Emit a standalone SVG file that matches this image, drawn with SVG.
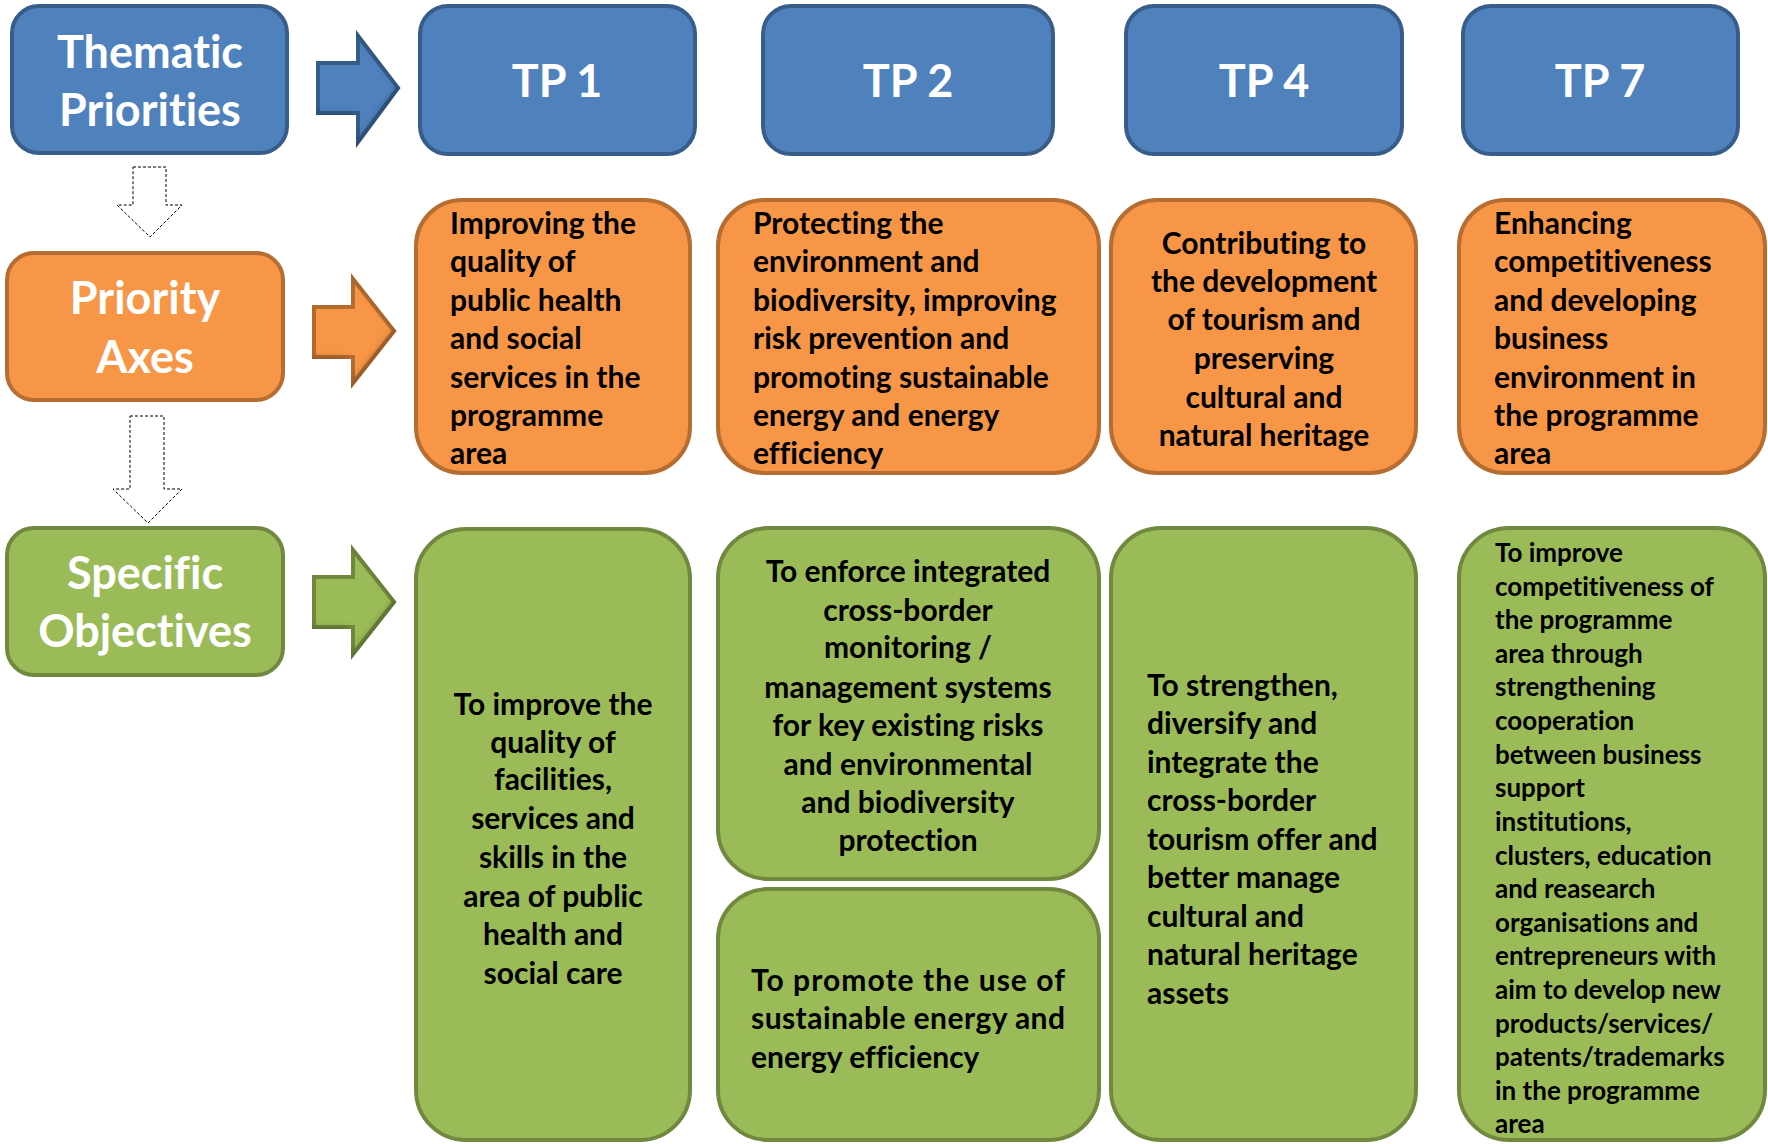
<svg xmlns="http://www.w3.org/2000/svg" width="1768" height="1144" viewBox="0 0 1768 1144">
<style>
text{font-family:Lato,"Open Sans","Liberation Sans",sans-serif;font-weight:bold;font-variant-ligatures:none}
.hd{fill:#fff;font-size:45px;text-anchor:middle}
.tp{fill:#fff;font-size:45px;text-anchor:middle}
.o{fill:#000;font-size:30px}
.g{fill:#000;font-size:30px}
.g7{fill:#000;font-size:26px}
.c{text-anchor:middle}
.blue{fill:#4F81BD;stroke:#385D8A;stroke-width:4}
.orange{fill:#F79646;stroke:#B66D31;stroke-width:4}
.green{fill:#9BBB59;stroke:#71893F;stroke-width:4}
.dash{fill:#fff;stroke:#000;stroke-width:1;stroke-dasharray:3 2}
</style>
<defs>
<filter id="bevel" x="-10%" y="-10%" width="120%" height="120%">
<feGaussianBlur in="SourceAlpha" stdDeviation="3" result="b"/>
<feOffset dx="-3" dy="-3" in="b" result="o"/>
<feComposite in="SourceAlpha" in2="o" operator="out" result="edge"/>
<feFlood flood-color="#000" flood-opacity="0.35"/>
<feComposite in2="edge" operator="in" result="sh"/>
<feMerge><feMergeNode in="SourceGraphic"/><feMergeNode in="sh"/></feMerge>
</filter>
</defs>
<rect width="1768" height="1144" fill="#fff"/>

<g id="connectors">
<polygon class="dash" points="133,167 166,167 166,205 182,205 150,237 117,205 133,205"/>
<polygon class="dash" points="130,416 164,416 164,489 182,489 148,523 113,489 130,489"/>
<polygon class="blue" filter="url(#bevel)" points="318,63 358,63 358,36 398,88 358,142 358,113 318,113"/>
<polygon class="orange" filter="url(#bevel)" points="314,307 353,307 353,279 394,331 353,383 353,357 314,357"/>
<polygon class="green" filter="url(#bevel)" points="314,577 353,577 353,550 394,602 353,654 353,627 314,627"/>
</g>

<g id="thematic-priorities">
<rect class="blue" x="12" y="6" width="275" height="147" rx="27"/>
<text class="hd" x="150" y="68">Thematic</text>
<text class="hd" x="150" y="126">Priorities</text>
</g>
<g id="priority-axes">
<rect class="orange" x="7" y="253" width="276" height="147" rx="27"/>
<text class="hd" x="145" y="314">Priority</text>
<text class="hd" x="145" y="373">Axes</text>
</g>
<g id="specific-objectives">
<rect class="green" x="7" y="528" width="276" height="147" rx="27"/>
<text class="hd" x="145" y="589">Specific</text>
<text class="hd" x="145" y="647">Objectives</text>
</g>

<g id="tp1">
<rect class="blue" x="420" y="6" width="275" height="148" rx="28"/>
<text class="tp" x="557" y="97">TP 1</text>
</g>
<g id="tp2">
<rect class="blue" x="763" y="6" width="290" height="148" rx="28"/>
<text class="tp" x="908" y="97">TP 2</text>
</g>
<g id="tp4">
<rect class="blue" x="1126" y="6" width="276" height="148" rx="28"/>
<text class="tp" x="1264" y="97">TP 4</text>
</g>
<g id="tp7">
<rect class="blue" x="1463" y="6" width="275" height="148" rx="28"/>
<text class="tp" x="1600" y="97">TP 7</text>
</g>

<g id="pa-tp1">
<rect class="orange" x="416" y="200" width="274" height="273" rx="46"/>
<text class="o" x="450" y="234">Improving the</text>
<text class="o" x="450" y="272">quality of</text>
<text class="o" x="450" y="311">public health</text>
<text class="o" x="450" y="349">and social</text>
<text class="o" x="450" y="388">services in the</text>
<text class="o" x="450" y="426">programme</text>
<text class="o" x="450" y="464">area</text>
</g>
<g id="pa-tp2">
<rect class="orange" x="718" y="200" width="381" height="273" rx="46"/>
<text class="o" x="753" y="234">Protecting the</text>
<text class="o" x="753" y="272">environment and</text>
<text class="o" x="753" y="311">biodiversity, improving</text>
<text class="o" x="753" y="349">risk prevention and</text>
<text class="o" x="753" y="388">promoting sustainable</text>
<text class="o" x="753" y="426">energy and energy</text>
<text class="o" x="753" y="464">efficiency</text>
</g>
<g id="pa-tp4">
<rect class="orange" x="1111" y="200" width="305" height="273" rx="46"/>
<text class="o c" x="1264" y="254">Contributing to</text>
<text class="o c" x="1264" y="292">the development</text>
<text class="o c" x="1264" y="330">of tourism and</text>
<text class="o c" x="1264" y="369">preserving</text>
<text class="o c" x="1264" y="408">cultural and</text>
<text class="o c" x="1264" y="446">natural heritage</text>
</g>
<g id="pa-tp7">
<rect class="orange" x="1459" y="200" width="306" height="273" rx="46"/>
<text class="o" x="1494" y="234">Enhancing</text>
<text class="o" x="1494" y="272">competitiveness</text>
<text class="o" x="1494" y="311">and developing</text>
<text class="o" x="1494" y="349">business</text>
<text class="o" x="1494" y="388">environment in</text>
<text class="o" x="1494" y="426">the programme</text>
<text class="o" x="1494" y="464">area</text>
</g>

<g id="so-tp1">
<rect class="green" x="416" y="529" width="274" height="611" rx="50"/>
<text class="g c" x="553" y="715">To improve the</text>
<text class="g c" x="553" y="753">quality of</text>
<text class="g c" x="553" y="790">facilities,</text>
<text class="g c" x="553" y="829">services and</text>
<text class="g c" x="553" y="868">skills in the</text>
<text class="g c" x="553" y="907">area of public</text>
<text class="g c" x="553" y="945">health and</text>
<text class="g c" x="553" y="984">social care</text>
</g>
<g id="so-tp2a">
<rect class="green" x="718" y="528" width="381" height="351" rx="50"/>
<text class="g c" x="908" y="582">To enforce integrated</text>
<text class="g c" x="908" y="621">cross-border</text>
<text class="g c" x="908" y="658">monitoring /</text>
<text class="g c" x="908" y="698">management systems</text>
<text class="g c" x="908" y="736">for key existing risks</text>
<text class="g c" x="908" y="775">and environmental</text>
<text class="g c" x="908" y="813">and biodiversity</text>
<text class="g c" x="908" y="851">protection</text>
</g>
<g id="so-tp2b">
<rect class="green" x="718" y="889" width="381" height="251" rx="50"/>
<text class="g" x="751" y="991" textLength="314" lengthAdjust="spacing">To promote the use of</text>
<text class="g" x="751" y="1029" textLength="314" lengthAdjust="spacing">sustainable energy and</text>
<text class="g" x="751" y="1068">energy efficiency</text>
</g>
<g id="so-tp4">
<rect class="green" x="1111" y="528" width="305" height="612" rx="50"/>
<text class="g" x="1147" y="696">To strengthen,</text>
<text class="g" x="1147" y="734">diversify and</text>
<text class="g" x="1147" y="773">integrate the</text>
<text class="g" x="1147" y="811">cross-border</text>
<text class="g" x="1147" y="850">tourism offer and</text>
<text class="g" x="1147" y="888">better manage</text>
<text class="g" x="1147" y="927">cultural and</text>
<text class="g" x="1147" y="965">natural heritage</text>
<text class="g" x="1147" y="1004">assets</text>
</g>
<g id="so-tp7">
<rect class="green" x="1459" y="528" width="306" height="612" rx="50"/>
<text class="g7" x="1495" y="562">To improve</text>
<text class="g7" x="1495" y="596">competitiveness of</text>
<text class="g7" x="1495" y="629">the programme</text>
<text class="g7" x="1495" y="663">area through</text>
<text class="g7" x="1495" y="696">strengthening</text>
<text class="g7" x="1495" y="730">cooperation</text>
<text class="g7" x="1495" y="764">between business</text>
<text class="g7" x="1495" y="797">support</text>
<text class="g7" x="1495" y="831">institutions,</text>
<text class="g7" x="1495" y="865">clusters, education</text>
<text class="g7" x="1495" y="898">and reasearch</text>
<text class="g7" x="1495" y="932">organisations and</text>
<text class="g7" x="1495" y="965">entrepreneurs with</text>
<text class="g7" x="1495" y="999">aim to develop new</text>
<text class="g7" x="1495" y="1033">products/services/</text>
<text class="g7" x="1495" y="1066">patents/trademarks</text>
<text class="g7" x="1495" y="1100">in the programme</text>
<text class="g7" x="1495" y="1133">area</text>
</g>
</svg>
